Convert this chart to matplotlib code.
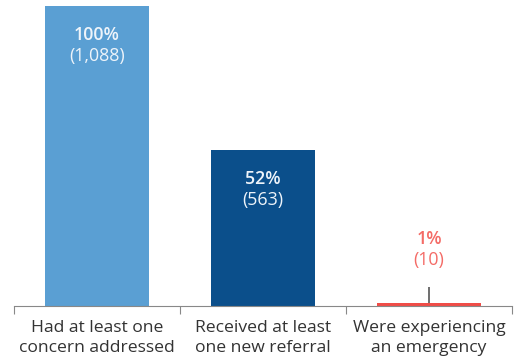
import matplotlib.pyplot as plt

categories = ["Had at least one\nconcern addressed",
              "Received at least\none new referral",
              "Were experiencing\nan emergency"]
percents = [100, 52, 1]
counts = [1088, 563, 10]
colors = ["#5A9FD3", "#0B4F8B", "#F04C47"]
label_colors = ["#EEF4FA", "#EEF4FA", "#F46B66"]

plt.rcParams['font.family'] = ['Open Sans', 'DejaVu Sans']

fig = plt.figure(figsize=(5.22, 3.64), dpi=100)
ax = fig.add_axes([14/522, 58/364, 498/522, 300/364])

x = range(len(categories))
ax.bar(x, percents, width=0.625, color=colors)
ax.set_xlim(-0.5, 2.5)
ax.set_ylim(0, 100)

fs = 12.8
for i, (p, c) in enumerate(zip(percents, counts)):
    if p > 20:
        y = p - 9.5
        ax.text(i, y, f"{p}%", ha="center", va="center", color=label_colors[i],
                fontsize=fs, fontweight="semibold")
        ax.text(i, y - 7.3, f"({c:,})", ha="center", va="center", color=label_colors[i],
                fontsize=fs)
    else:
        # short leader line from the thin bar up to its label
        ax.plot([i, i], [p, p + 5.5], color="#555555", lw=1.2, solid_capstyle="butt")
        ax.text(i, p + 21.5, f"{p}%", ha="center", va="center", color=label_colors[i],
                fontsize=fs, fontweight="semibold")
        ax.text(i, p + 14.2, f"({c:,})", ha="center", va="center", color=label_colors[i],
                fontsize=fs)

for s in ["top", "right", "left"]:
    ax.spines[s].set_visible(False)
ax.spines["bottom"].set_color("#888888")
ax.set_yticks([])
ax.set_xticks([-0.5, 0.5, 1.5, 2.5])
ax.set_xticklabels([])
ax.tick_params(axis="x", length=6, color="#888888")
ax.set_xticks(list(x), minor=True)
ax.set_xticklabels(categories, minor=True, fontsize=12.6, color="#333333", linespacing=1.35)
ax.tick_params(axis="x", which="minor", length=0, pad=10)

fig.savefig("out.png", dpi=100)
